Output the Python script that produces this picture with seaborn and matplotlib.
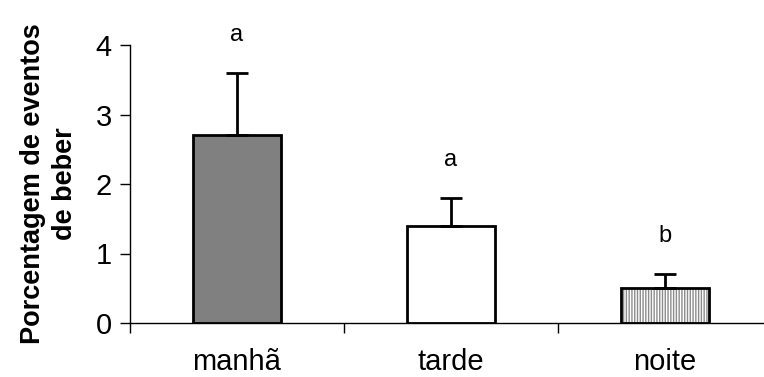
import matplotlib
matplotlib.use("Agg")
import matplotlib.pyplot as plt
import seaborn as sns
import numpy as np
import pandas as pd

categories = ["manhã", "tarde", "noite"]
values = [2.7, 1.4, 0.5]
errors = [0.9, 0.4, 0.2]
letters = ["a", "a", "b"]
colors = ["#808080", "#ffffff", "#ffffff"]

sns.set_style("white")
plt.rcParams['font.family'] = ['Liberation Sans', 'DejaVu Sans']
plt.rcParams['hatch.linewidth'] = 1.0
plt.rcParams['text.color'] = 'black'
plt.rcParams['axes.labelcolor'] = 'black'
plt.rcParams['xtick.color'] = 'black'
plt.rcParams['ytick.color'] = 'black'

fig = plt.figure(figsize=(7.64, 3.77), dpi=100)
ax = fig.add_axes([130/764, 54/377, 642/764, 278/377])

df = pd.DataFrame({"periodo": categories, "valor": values})
sns.barplot(data=df, x="periodo", y="valor", hue="periodo", palette=colors,
            legend=False, width=0.41, edgecolor="black", linewidth=2, ax=ax,
            saturation=1)

patches = ax.patches
patches[2].set_hatch("||||||")
patches[2]._hatch_color = (0.55, 0.55, 0.55, 1)

xs = np.arange(len(categories))
ax.errorbar(xs, values, yerr=[np.zeros(len(errors)), errors], fmt="none",
            ecolor="black", elinewidth=2, capsize=8, capthick=2)

for x, v, e, t in zip(xs, values, errors, letters):
    ax.text(x, v + e + 0.55, t, ha="center", va="center", fontsize=17, color="black")

ax.set_xlim(-0.5, 2.5)
ax.set_ylim(0, 4)
ax.set_yticks([0, 1, 2, 3, 4])
ax.set_xticks(xs)
ax.set_xticks([-0.5, 0.5, 1.5, 2.5], minor=True)
ax.tick_params(axis="x", which="major", length=0, pad=18, labelsize=21)
ax.tick_params(axis="x", which="minor", length=7, width=1, direction="out", bottom=True)
ax.tick_params(axis="y", length=7, width=1, direction="out", left=True, pad=6, labelsize=21)
for s in ["top", "right"]:
    ax.spines[s].set_visible(False)
for s in ["left", "bottom"]:
    ax.spines[s].set_color("black")
    ax.spines[s].set_linewidth(1)
ax.set_xlabel("")
ax.set_ylabel("Porcentagem de eventos\nde beber", fontsize=19.5, fontweight="bold",
              labelpad=13, linespacing=1.3)

fig.savefig("out.png", dpi=100)
